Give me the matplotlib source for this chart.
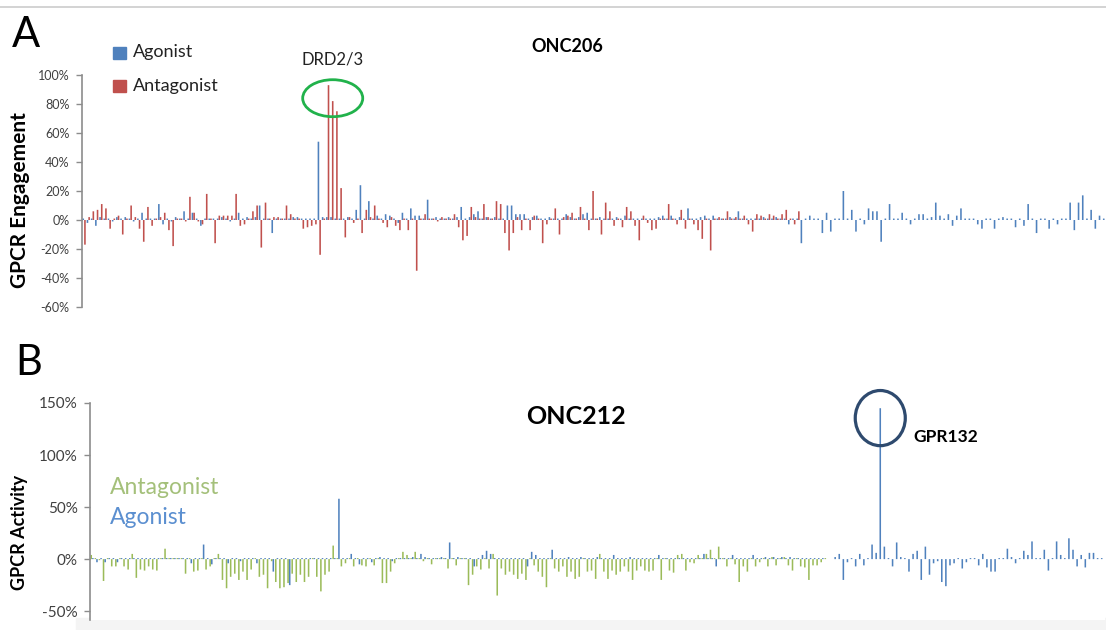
import matplotlib
matplotlib.use("Agg")
import matplotlib.pyplot as plt
from matplotlib.patches import Ellipse, Rectangle
from matplotlib.lines import Line2D
from matplotlib.ticker import FuncFormatter
import numpy as np

plt.rcParams['font.family'] = ['Lato', 'DejaVu Sans']

# Panel A - ONC206, GPCR engagement (%), one value per receiver
agonist_a = [
    1, -2, 1, -4, 2, 1, 1, -1, 2, 1,
    2, 1, -1, 1, 5, 1, 1, 1, 11, -3,
    1, -1, 2, 1, 6, 1, 5, 1, -4, 1,
    1, 1, 1, 2, 1, -1, 1, 5, 1, 2,
    1, 2, 10, 1, 1, -9, 1, 1, 1, 1,
    2, 2, 1, 1, 1, 1, 54, 2, 2, 2,
    1, 1, 1, 2, 1, 7, 24, 1, 13, 1,
    3, 1, 4, 3, 1, -2, 5, 1, 8, 3,
    3, 1, 14, 1, 2, 1, 1, 2, 1, 2,
    9, 1, 2, 4, 6, 1, 2, 1, 2, 1,
    1, 10, 10, 4, 4, 4, 1, 2, 3, 1,
    1, 2, 1, 1, 1, 4, 2, 1, 2, 4,
    5, 1, 1, 2, 1, 1, 1, 2, 1, 3,
    1, 1, 1, 1, 1, 1, 1, 2, 3, 1,
    3, 1, 2, 1, 8, 1, 1, 2, 3, 1,
    3, 1, 1, 1, 2, 1, 6, 1, 1, 1,
    1, 1, 2, 1, 1, 2, 1, 1, -3, 1,
    1, -16, 1, 3, 1, 1, -9, 5, -8, 1,
    1, 20, 1, 7, -8, 1, -3, 8, 6, 6,
    -15, 1, 11, 1, 1, 5, 1, -3, 1, 4,
    4, 1, 2, 12, 3, 1, 4, -4, 3, 8,
    1, 1, 1, -3, -6, 1, 1, -6, 1, 2,
    1, 1, -5, 1, -4, 11, 1, -9, 1, 1,
    -6, 1, -3, 1, 1, 12, -7, 12, 17, 1,
    7, -6, 3, 1,
]
antagonist_a = [
    -17, 2, 6, 7, 11, 8, -6, 1, 3, -10,
    1, 10, 2, -6, -15, 9, -4, 1, 2, 5,
    -7, -18, 1, 1, -1, 16, 5, -1, -3, 18,
    1, -16, 3, 3, 3, 3, 18, -4, -3, 1,
    6, 10, -19, 12, 1, 2, 2, 1, 10, 4,
    1, 1, -6, -5, -4, -3, -24, 1, 93, 82,
    75, 22, -12, 2, -2, 1, -9, 7, 2, 10,
    1, -2, -5, 2, -4, -7, 1, -7, 1, -35,
    1, 4, 1, 1, -1, 2, 1, 1, 4, -5,
    -14, -11, 9, 2, 1, 11, 2, 1, 13, 11,
    -9, -21, -9, 2, -7, 1, -7, 3, 1, -16,
    -3, 1, 8, -10, 2, 3, 5, 1, 9, 1,
    -7, 20, 1, -10, 12, 6, -4, 1, -5, 9,
    6, -4, -14, 3, -2, -7, -6, 1, 1, 11,
    1, -3, 7, -6, 1, -3, -7, -13, 1, -21,
    1, 2, 1, 6, 1, 2, 1, 3, -3, -8,
    4, 3, 1, 4, 3, 1, 4, 7, 1, -3,
    6,
]

# Panel B - ONC212, GPCR activity (%)
antagonist_b = [
    4, 1, -1, -21, 1, -7, -7, 1, -7, -10,
    5, -18, -10, -11, -7, -10, -11, 1, 10, 1,
    1, 1, 1, -14, 1, -12, -11, 1, -10, -7,
    1, 5, -20, -28, -17, -14, -20, -12, -20, -10,
    1, -17, -15, -28, -2, -22, -28, -27, -23, -14,
    -22, -15, -22, -17, 1, -17, -31, -15, -12, 13,
    1, -7, -4, 1, -7, 1, -6, -7, 1, -6,
    1, -23, -23, -12, -4, 1, 7, 4, 1, 7,
    1, -2, 1, -5, 1, 1, 1, -9, 1, -6,
    1, 1, -25, -15, -7, -10, 1, -9, 5, -35,
    -9, -15, -12, -15, -19, -14, -20, 1, -6, -12,
    -17, -27, 1, -9, -12, -7, -17, -12, -19, -17,
    1, -12, -11, -19, 5, -12, -19, -11, -15, -12,
    -7, -12, -20, -11, -7, -11, -12, -11, 1, -20,
    1, -11, -13, 4, 5, -11, -3, -4, 4, 1,
    5, 9, 1, 12, 1, -7, 1, -5, -22, -7,
    -12, 1, -7, -3, 1, -7, 2, -6, 1, 2,
    -6, -11, 1, -7, -8, -20, -6, -6, -3, 1,
]
agonist_b = [
    1, -3, 1, -3, 1, 1, -3, 1, 1, 1,
    1, 1, 1, 1, 1, 1, 1, 1, 1, 1,
    1, 1, 1, 1, -4, 1, 1, 14, 1, -5,
    1, 1, 1, -4, 1, 1, -2, 1, 1, 1,
    -4, 1, 1, 1, -12, 1, 1, 1, -25, 1,
    1, 1, 1, 1, 1, 1, 1, 1, 1, 1,
    58, 1, 1, 5, 1, -5, 1, 1, -3, 1,
    2, 1, 1, -2, 1, 1, 1, 1, 2, 1,
    5, 2, 1, 1, 1, 2, 1, 16, 1, 2,
    1, 1, 1, -7, 1, 4, 8, 5, 1, 1,
    1, 1, 1, 1, 1, 1, -7, 7, 4, 1,
    1, 1, 9, 1, 1, 1, 2, 1, 1, 2,
    1, 1, 1, 2, 1, 1, 1, 4, 1, 1,
    1, 2, 1, 1, 1, 1, 1, 1, 4, 1,
    1, 1, 1, 1, 1, 1, 1, 1, 1, 5,
    1, 1, -7, 1, 1, 1, 4, 1, 1, 1,
    1, 4, 1, 1, 2, 1, 2, 1, 2, 1,
    2, 1, 1, 1, 1, 1, 1, 1, 1, 0,
    0, 2, 5, -20, -3, 1, -7, 5, -6, 1,
    14, 6, 145, 12, 1, -7, 16, 2, 1, -12,
    5, 8, -20, 12, -15, -4, -2, -22, -26, -6,
    -4, 1, -9, -3, 1, 1, -6, 5, -8, -12,
    -12, 1, 1, 10, 2, -4, 1, 8, 4, 17,
    1, 1, 9, -11, 1, 17, 4, 1, 20, 9,
    -7, 4, -8, 6, 6, 1, 1,
]

ticks_a = [-60, -40, -20, 0, 20, 40, 60, 80, 100]
ticks_b = [-50, 0, 50, 100, 150]

blue = '#4f81bd'
red = '#c0504d'
green = '#9bbb59'

W, H = 1106, 630
fig = plt.figure(figsize=(W / 100, H / 100), dpi=100)


def px_axes(left, top, right, bottom):
    return fig.add_axes([left / W, 1 - bottom / H, (right - left) / W, (bottom - top) / H])


def pct(v, p):
    return '%d%%' % v


def style_axis(ax, size, pad):
    for s in ['top', 'right', 'bottom']:
        ax.spines[s].set_visible(False)
    ax.spines['left'].set_color('#8c8c8c')
    ax.spines['left'].set_linewidth(1.2)
    ax.set_xticks([])
    ax.yaxis.set_major_formatter(FuncFormatter(pct))
    ax.tick_params(axis='y', length=4, width=1, color='#8c8c8c',
                   labelsize=size, labelcolor='#404040', pad=pad)


# ---------------- Panel A ----------------
axA = px_axes(82, 75, 1105, 307)
xa = np.arange(len(agonist_a))
xr = np.arange(len(antagonist_a))
axA.bar(xa - 0.2, agonist_a, width=0.38, color=blue, linewidth=0, snap=False)
axA.bar(xr + 0.2, antagonist_a, width=0.38, color=red, linewidth=0, snap=False)
axA.set_xlim(-0.5, 243.1)
axA.set_ylim(-60, 100)
axA.set_yticks(ticks_a)
style_axis(axA, 9, 5)

# DRD2/3 ring
axA.add_patch(Ellipse((59.2, 84), 14.3, 25.5, fill=False, edgecolor='#21b24b',
                      linewidth=2, clip_on=False))
axA.text(59.2, 110.5, 'DRD2/3', ha='center', va='center', fontsize=12, color='#222222')

fig.text(12 / W, 1 - 47 / H, 'A', fontsize=30, ha='left', va='baseline')
fig.text(567 / W, 1 - 47 / H, 'ONC206', fontsize=13, fontweight='bold', ha='center', va='center')
fig.text(20 / W, 1 - 200 / H, 'GPCR Engagement', fontsize=15, fontweight='bold',
         rotation=90, ha='center', va='center')

# legend squares
fig.patches.append(Rectangle((113 / W, 1 - 59 / H), 13 / W, 12 / H, color=blue,
                             transform=fig.transFigure, figure=fig))
fig.patches.append(Rectangle((113 / W, 1 - 92 / H), 13 / W, 12 / H, color=red,
                             transform=fig.transFigure, figure=fig))
fig.text(133 / W, 1 - 52 / H, 'Agonist', fontsize=13, ha='left', va='center', color='#222222')
fig.text(133 / W, 1 - 86 / H, 'Antagonist', fontsize=13, ha='left', va='center', color='#222222')

# ---------------- Panel B ----------------
axB = px_axes(90, 403, 1105, 620)
xb = np.arange(len(agonist_b))
xg = np.arange(len(antagonist_b))
axB.bar(xg - 0.2, antagonist_b, width=0.38, color=green, linewidth=0, snap=False)
axB.bar(xb + 0.2, agonist_b, width=0.38, color=blue, linewidth=0, snap=False)
axB.set_xlim(-0.5, 247)
axB.set_ylim(-58.5, 150)
axB.set_yticks(ticks_b)
style_axis(axB, 11, 5)

# GPR132 ring
axB.add_patch(Ellipse((192.2, 135.5), 12.2, 53, fill=False, edgecolor='#2e4a6e',
                      linewidth=2.3, clip_on=False))
fig.text(913 / W, 1 - 437 / H, 'GPR132', fontsize=12.5, fontweight='bold', ha='left', va='center')

fig.text(15 / W, 1 - 375 / H, 'B', fontsize=30, ha='left', va='baseline')
fig.text(576 / W, 1 - 417 / H, 'ONC212', fontsize=18, fontweight='bold', ha='center', va='center')
fig.text(20 / W, 1 - 532 / H, 'GPCR Activity', fontsize=13, fontweight='bold',
         rotation=90, ha='center', va='center')
fig.text(110 / W, 1 - 494 / H, 'Antagonist', fontsize=16.5, ha='left', va='baseline', color='#a4c07a')
fig.text(110 / W, 1 - 524 / H, 'Agonist', fontsize=16.5, ha='left', va='baseline', color='#5b8fd0')

# page decorations: thin rule at the top and grey band at the bottom
fig.add_artist(Line2D([0, 1], [1 - 7 / H, 1 - 7 / H], color='#cccccc', linewidth=1.2,
                      transform=fig.transFigure))
fig.patches.append(Rectangle((76 / W, 0), 1 - 76 / W, 12 / H, color='#f4f4f4',
                             transform=fig.transFigure, figure=fig, zorder=-1))

fig.savefig('out.png', dpi=100)
